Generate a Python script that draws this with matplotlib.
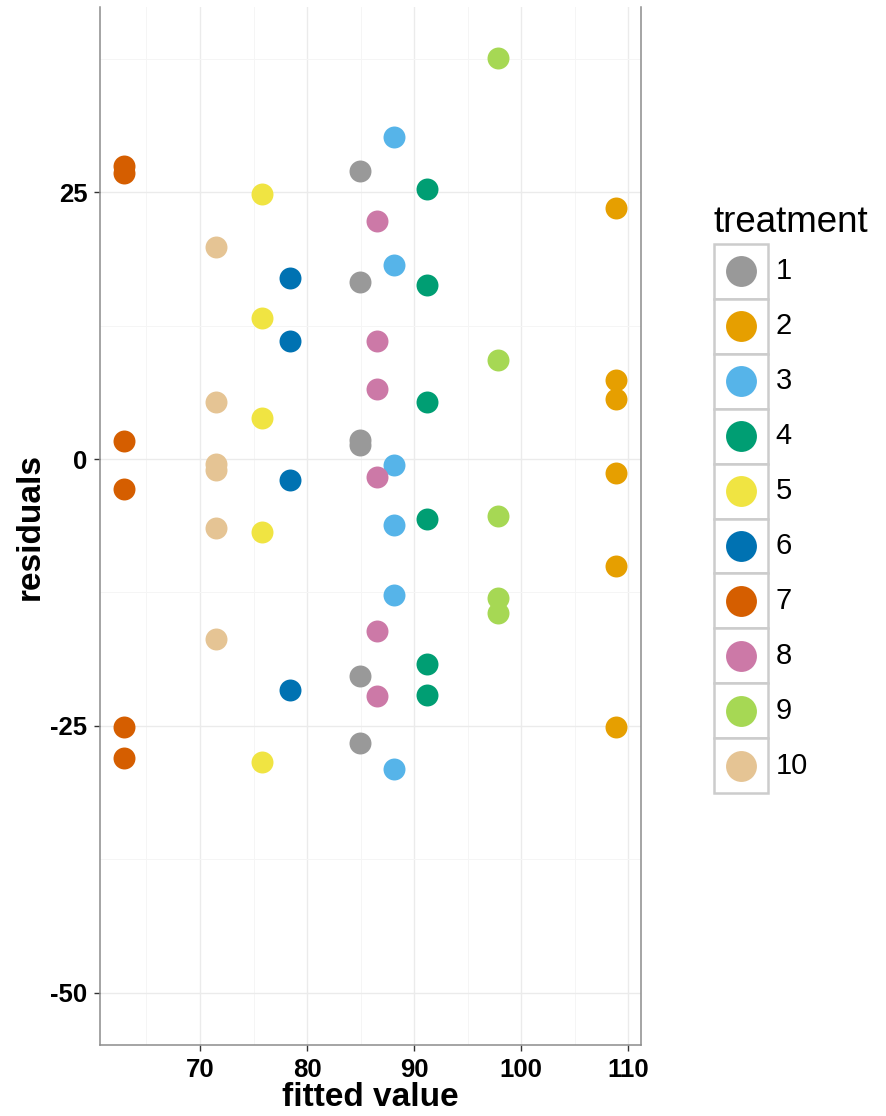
import matplotlib
matplotlib.use("Agg")
import matplotlib.pyplot as plt
from matplotlib.patches import Rectangle

plt.rcParams["font.family"] = ["Liberation Sans", "DejaVu Sans"]
plt.rcParams["axes.unicode_minus"] = False

# fitted value per treatment and the residuals
treatments = ["1", "2", "3", "4", "5", "6", "7", "8", "9", "10"]
fitted = [84.94, 108.84, 88.12, 91.22, 75.78, 78.37, 62.92, 86.55, 97.83, 71.49]
residuals = [
    [27.0, 16.6, 1.8, 1.3, -20.3, -26.6],
    [23.5, 7.4, 5.6, -1.3, -10.0, -25.1],
    [30.2, 18.2, -0.6, -6.2, -12.7, -29.0],
    [25.3, 16.3, 5.3, -5.6, -19.2, -22.1],
    [24.8, 13.2, 3.8, -6.8, -28.4],
    [17.0, 11.1, -2.0, -21.6],
    [27.5, 26.8, 1.7, -2.8, -25.1, -28.0],
    [22.3, 11.1, 6.6, -1.7, -16.1, -22.2],
    [37.6, 9.3, -5.3, -13.0, -14.4],
    [19.9, 5.3, -0.5, -1.0, -6.5, -16.9],
]
colors = ["#999999", "#E69F00", "#56B4E9", "#009E73", "#F0E442",
          "#0072B2", "#D55E00", "#CC79A7", "#A6D854", "#E5C494"]

xticks = [70, 80, 90, 100, 110]
yticks = [-50, -25, 0, 25]

W, H = 886, 1116
fig = plt.figure(figsize=(W / 100, H / 100), dpi=100)
ax = fig.add_axes([100 / W, 1 - 1045 / H, (641 - 100) / W, (1045 - 7) / H])

for fv, res, col in zip(fitted, residuals, colors):
    ax.scatter([fv] * len(res), res, s=250, color=col, linewidths=0, zorder=3)

ax.set_xlim(60.66, 111.19)
ax.set_ylim(-54.9, 42.35)
ax.set_xticks(xticks)
ax.set_yticks(yticks)
ax.set_xticks([65, 75, 85, 95, 105], minor=True)
ax.set_yticks([-37.5, -12.5, 12.5, 37.5], minor=True)
ax.grid(True, which="major", color="#EBEBEB", linewidth=1.0, zorder=0)
ax.grid(True, which="minor", color="#F5F5F5", linewidth=0.7, zorder=0)
ax.set_axisbelow(True)

for side in ["left", "right", "bottom"]:
    ax.spines[side].set_color("#8C8C8C")
    ax.spines[side].set_linewidth(1.1)
ax.spines["top"].set_visible(False)

ax.tick_params(which="major", length=4.5, width=1.0, color="#333333", pad=4.5,
               labelsize=18.5)
ax.tick_params(axis="x", pad=5)
ax.tick_params(which="minor", length=0)
for lab in ax.get_xticklabels() + ax.get_yticklabels():
    lab.set_fontweight("bold")

ax.set_xlabel("fitted value", fontsize=24, fontweight="bold", labelpad=0)
ax.set_ylabel("residuals", fontsize=24, fontweight="bold", labelpad=3)

# legend: one bordered key box per treatment
lax = fig.add_axes([713.5 / W, 1 - 793 / H, 55 / W, 549 / H])
lax.set_xlim(0, 1)
lax.set_ylim(len(treatments), 0)
lax.axis("off")
for i, (t, col) in enumerate(zip(treatments, colors)):
    lax.add_patch(Rectangle((0, i), 1, 1, facecolor="white", edgecolor="#CCCCCC",
                            linewidth=1.8, clip_on=False))
    lax.scatter([0.5], [i + 0.5], s=495, color=col, linewidths=0, clip_on=False,
                zorder=3)
    lax.text(1.13, i + 0.5, t, fontsize=21, va="center", ha="left")
lax.text(0.0, -0.22, "treatment", fontsize=26.5, va="baseline", ha="left")

fig.savefig("out.png", dpi=100)
